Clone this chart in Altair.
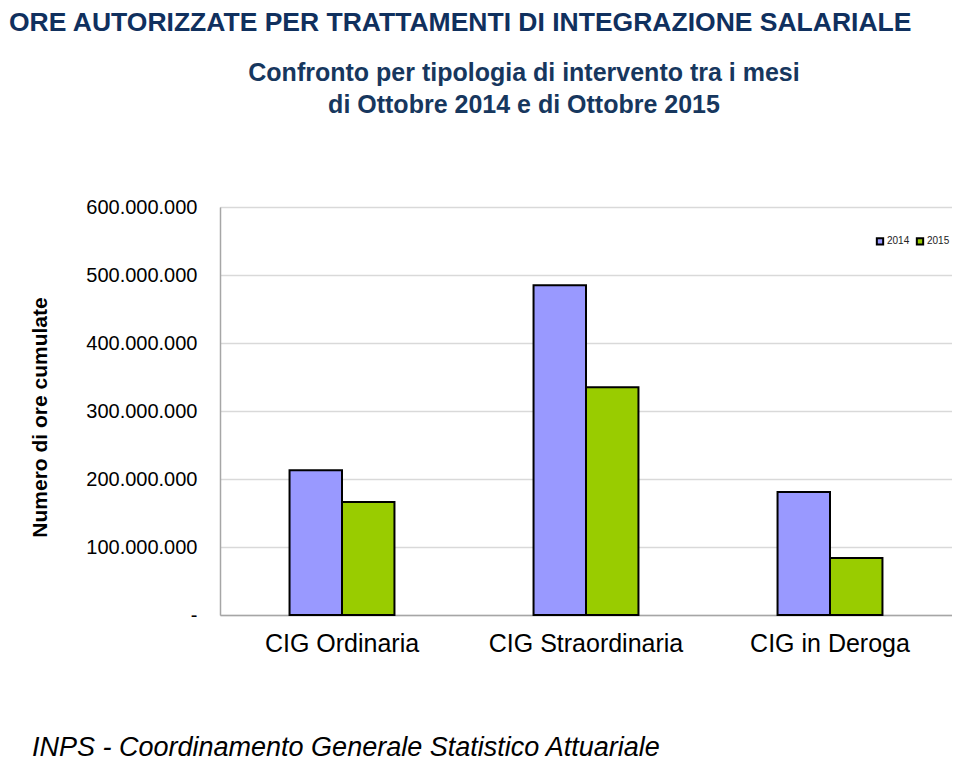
import altair as alt
import pandas as pd

categories = ["CIG Ordinaria", "CIG Straordinaria", "CIG in Deroga"]
years = ["2014", "2015"]
values_2014 = [213000000, 485000000, 181000000]
values_2015 = [166000000, 335000000, 84000000]

rows = []
for c, a, b in zip(categories, values_2014, values_2015):
    rows.append({"tipo": c, "anno": "2014", "ore": a})
    rows.append({"tipo": c, "anno": "2015", "ore": b})
df = pd.DataFrame(rows)

title_txt = "ORE AUTORIZZATE PER TRATTAMENTI DI INTEGRAZIONE SALARIALE"
sub1 = "Confronto per tipologia di intervento tra i mesi"
sub2 = "di Ottobre 2014 e di Ottobre 2015"
footer = "INPS - Coordinamento Generale Statistico Attuariale"

W, H = 732, 408
FONT = "Liberation Sans, Arial, sans-serif"

bars = alt.Chart(df).mark_bar(stroke="black", strokeWidth=2).encode(
    x=alt.X("tipo:N", sort=categories,
            scale=alt.Scale(paddingInner=0.57, paddingOuter=0.285),
            axis=alt.Axis(title=None, labelAngle=0, labelFontSize=25, labelColor="black",
                          labelFont=FONT, labelPadding=16, labelLimit=400, ticks=False,
                          domainColor="#a6a6a6", domainWidth=1.5)),
    xOffset=alt.XOffset("anno:N", sort=years),
    y=alt.Y("ore:Q", scale=alt.Scale(domain=[0, 600000000], nice=False),
            axis=alt.Axis(title="Numero di ore cumulate",
                          values=[0, 100000000, 200000000, 300000000, 400000000, 500000000, 600000000],
                          labelExpr="datum.value == 0 ? '-' : replace(format(datum.value, ','), regexp(',', 'g'), '.')",
                          labelFontSize=20, labelColor="black", labelPadding=23,
                          labelFont=FONT, ticks=False, domainColor="#a6a6a6", domainWidth=1.5,
                          gridColor="#d9d9d9", gridWidth=1.5,
                          titleFontSize=21, titleFontWeight="bold", titleColor="black",
                          titleFont=FONT, titleX=-170, titleY=210, titleAngle=270)),
    color=alt.Color("anno:N", sort=years,
                    scale=alt.Scale(domain=years, range=["#9999ff", "#99cc00"]),
                    legend=alt.Legend(title=None, orient="none", legendX=655, legendY=29,
                                      direction="horizontal", symbolType="square",
                                      symbolSize=40, symbolStrokeColor="black",
                                      symbolStrokeWidth=2, labelFontSize=10,
                                      labelFont=FONT, labelColor="#222222",
                                      columnPadding=2, labelOffset=2)),
)

title = alt.Chart(pd.DataFrame({"t": [title_txt]})).mark_text(
    align="left", baseline="alphabetic", font=FONT, fontSize=26.5, fontWeight="bold",
    color="#10305e").encode(text="t:N", x=alt.value(-211), y=alt.value(-176))

s1 = alt.Chart(pd.DataFrame({"t": [sub1]})).mark_text(
    align="center", baseline="alphabetic", font=FONT, fontSize=25, fontWeight="bold",
    color="#17375e").encode(text="t:N", x=alt.value(304), y=alt.value(-126))
s2 = alt.Chart(pd.DataFrame({"t": [sub2]})).mark_text(
    align="center", baseline="alphabetic", font=FONT, fontSize=25, fontWeight="bold",
    color="#17375e").encode(text="t:N", x=alt.value(304), y=alt.value(-94))

foot = alt.Chart(pd.DataFrame({"t": [footer]})).mark_text(
    align="left", baseline="alphabetic", font=FONT, fontSize=27, fontStyle="italic",
    color="black").encode(text="t:N", x=alt.value(-188), y=alt.value(549))

chart = alt.layer(bars, title, s1, s2, foot).properties(
    width=W, height=H,
    autosize=alt.AutoSizeParams(type="none"),
    padding={"left": 212, "top": 199, "right": 0, "bottom": 146},
).configure_view(stroke=None).configure(background="white")

chart.save("out.html", embed_options={"renderer": "svg", "actions": False})
